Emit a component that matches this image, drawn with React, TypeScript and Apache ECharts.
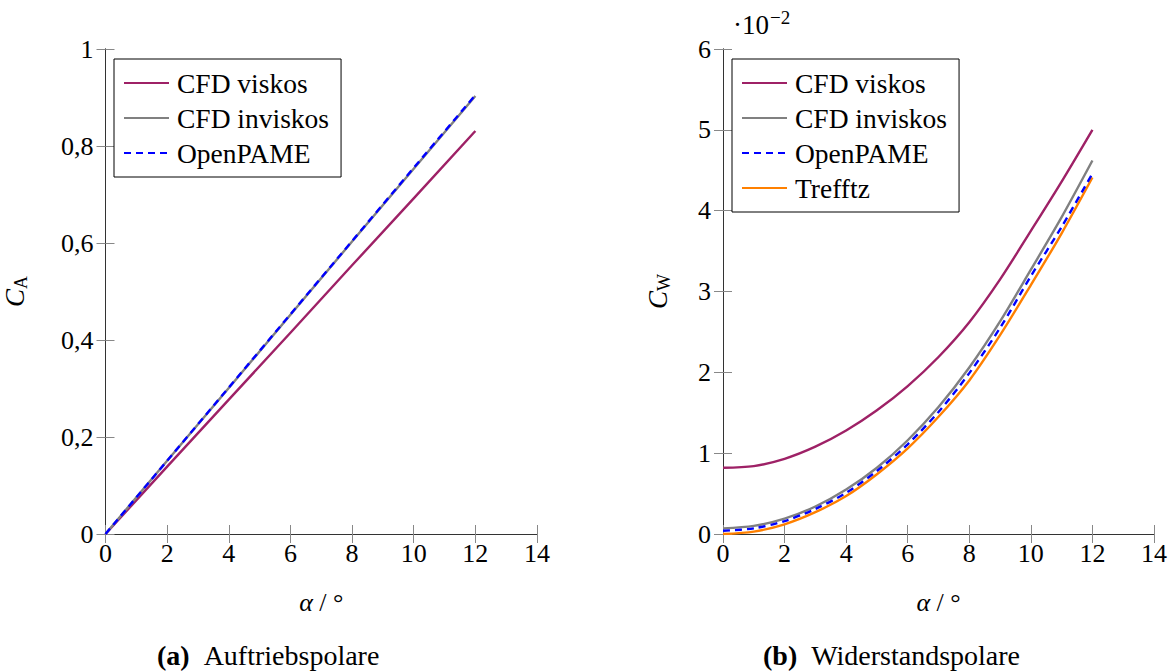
import React, { useEffect, useRef } from "react";
import * as echarts from "echarts";

const FONT = "Liberation Serif, serif";

// Left chart: Auftriebspolare (C_A over alpha)
const alphaLift = [0, 2, 4, 6, 8, 10, 12];
const liftViskos = [0, 0.139, 0.277, 0.415, 0.554, 0.692, 0.831];
const liftInviskos = [0, 0.151, 0.301, 0.452, 0.603, 0.753, 0.903];
const liftOpenPAME = [0, 0.151, 0.302, 0.453, 0.604, 0.755, 0.905];

// Right chart: Widerstandspolare (C_W over alpha, in units of 1e-2)
const alphaDrag = [0, 1, 2, 3, 4, 5, 6, 7, 8, 9, 10, 11, 12];
const dragViskos = [0.82, 0.84, 0.93, 1.08, 1.28, 1.53, 1.83, 2.19, 2.62, 3.15, 3.75, 4.36, 5.0];
const dragInviskos = [0.07, 0.1, 0.19, 0.34, 0.55, 0.82, 1.16, 1.57, 2.06, 2.63, 3.27, 3.92, 4.62];
const dragOpenPAME = [0.04, 0.07, 0.16, 0.31, 0.51, 0.78, 1.11, 1.51, 1.99, 2.55, 3.19, 3.8, 4.46];
const dragTrefftz = [0.0, 0.03, 0.12, 0.27, 0.47, 0.74, 1.06, 1.45, 1.9, 2.46, 3.08, 3.72, 4.41];

const xTicks = [0, 2, 4, 6, 8, 10, 12, 14];
const liftTicks = [0, 0.2, 0.4, 0.6, 0.8, 1];
const dragTicks = [0, 1, 2, 3, 4, 5, 6];

const names = ["CFD viskos", "CFD inviskos", "OpenPAME", "Trefftz"];
const colors = ["#9E2166", "#808080", "#0000FF", "#FF8000"];

const pairs = (xs: number[], ys: number[]) => xs.map((x, i) => [x, ys[i]]);

export default function App() {
  const ref = useRef<HTMLDivElement>(null);
  useEffect(() => {
    if (!ref.current) return;
    const chart = echarts.init(ref.current, undefined, { renderer: "svg" });

    const axisLine = { show: true, lineStyle: { color: "#333", width: 1 } };
    const tick = { show: true, inside: true, length: 9, lineStyle: { color: "#888", width: 1 } };
    const label = { fontSize: 26, fontFamily: FONT, color: "#000" };

    const xBase = (gridIndex: number, position: "bottom" | "top", showLabel: boolean) => ({
      type: "value",
      gridIndex,
      position,
      min: xTicks[0],
      max: xTicks[xTicks.length - 1],
      interval: 2,
      axisLine,
      axisTick: tick,
      splitLine: { show: false },
      axisLabel: showLabel ? { ...label, margin: 6 } : { show: false },
      name: showLabel ? "{a|α} / °" : "",
      nameLocation: "middle",
      nameGap: 55,
      nameTextStyle: {
        fontSize: 26,
        fontFamily: FONT,
        color: "#000",
        rich: { a: { fontSize: 26, fontFamily: FONT, fontStyle: "italic", color: "#000" } },
      },
    });

    const grid0 = { left: 105, top: 49, width: 432, height: 485 };
    const grid1 = { left: 723, top: 49, width: 431, height: 485 };

    const lineSeries = (
      name: string,
      idx: number,
      data: number[][],
      axis: number,
      dashed = false,
      smooth = false
    ) => ({
      type: "line",
      name,
      xAxisIndex: axis,
      yAxisIndex: axis,
      data,
      symbol: "none",
      smooth: smooth ? 0.3 : false,
      lineStyle: { color: colors[idx], width: 2.4, type: dashed ? [7, 5] : "solid" },
      itemStyle: { color: colors[idx] },
      z: dashed ? 5 : 3,
    });

    const legendBase = {
      orient: "vertical",
      top: 59,
      padding: [10, 12, 10, 9],
      itemGap: 7,
      itemWidth: 45,
      itemHeight: 14,
      borderColor: "#000",
      borderWidth: 1,
      borderRadius: 0,
      backgroundColor: "#fff",
      selectedMode: false,
      itemStyle: { opacity: 0 },
      textStyle: { fontSize: 27.5, fontFamily: FONT, color: "#000", lineHeight: 26, padding: [0, 0, 0, 3] },
    };

    const yName = (sub: string, gap: number) => ({
      name: "{c|C}{s|" + sub + "}",
      nameLocation: "middle",
      nameGap: gap,
      nameRotate: 90,
      nameTextStyle: {
        rich: {
          c: { fontSize: 27, fontFamily: FONT, fontStyle: "italic", color: "#000" },
          s: { fontSize: 18, fontFamily: FONT, color: "#000", padding: [12, 0, 0, 0] },
        },
      },
    });

    const caption = (x: number, tag: string, text: string) => ({
      type: "text",
      x,
      y: 655,
      style: {
        text: "{b|" + tag + "}{r|" + text + "}",
        align: "left",
        verticalAlign: "middle",
        rich: {
          b: { fontSize: 28, lineHeight: 26, fontFamily: FONT, fontWeight: "bold", fill: "#000" },
          r: { fontSize: 28, lineHeight: 26, fontFamily: FONT, fill: "#000", padding: [0, 0, 0, 14] },
        },
      },
    });

    chart.setOption({
      animation: false,
      backgroundColor: "#fff",
      textStyle: { fontFamily: FONT },
      grid: [grid0, grid1],
      xAxis: [xBase(0, "bottom", true), xBase(1, "bottom", true), xBase(0, "top", false), xBase(1, "top", false)],
      yAxis: [
        {
          type: "value",
          gridIndex: 0,
          position: "left",
          min: liftTicks[0],
          max: liftTicks[liftTicks.length - 1],
          interval: 0.2,
          axisLine,
          axisTick: tick,
          splitLine: { show: false },
          axisLabel: {
            ...label,
            margin: 12,
            formatter: (v: number) => (v === 0 || v === 1 ? String(v) : v.toFixed(1).replace(".", ",")),
          },
          ...yName("A", 76),
        },
        {
          type: "value",
          gridIndex: 1,
          position: "left",
          min: dragTicks[0],
          max: dragTicks[dragTicks.length - 1],
          interval: 1,
          axisLine,
          axisTick: tick,
          splitLine: { show: false },
          axisLabel: { ...label, margin: 12 },
          ...yName("W", 50),
        },
        {
          type: "value",
          gridIndex: 0,
          position: "right",
          min: 0,
          max: 1,
          interval: 0.2,
          axisLine,
          axisTick: tick,
          splitLine: { show: false },
          axisLabel: { show: false },
        },
        {
          type: "value",
          gridIndex: 1,
          position: "right",
          min: 0,
          max: 6,
          interval: 1,
          axisLine,
          axisTick: tick,
          splitLine: { show: false },
          axisLabel: { show: false },
        },
      ],
      legend: [
        { ...legendBase, left: 114, data: names.slice(0, 3) },
        { ...legendBase, left: 732, data: names.slice(0, 4) },
      ],
      series: [
        lineSeries(names[0], 0, pairs(alphaLift, liftViskos), 0),
        lineSeries(names[1], 1, pairs(alphaLift, liftInviskos), 0),
        lineSeries(names[2], 2, pairs(alphaLift, liftOpenPAME), 0, true),
        lineSeries(names[0], 0, pairs(alphaDrag, dragViskos), 1, false, true),
        lineSeries(names[1], 1, pairs(alphaDrag, dragInviskos), 1, false, true),
        lineSeries(names[2], 2, pairs(alphaDrag, dragOpenPAME), 1, true, true),
        lineSeries(names[3], 3, pairs(alphaDrag, dragTrefftz), 1, false, true),
      ],
      graphic: [
        {
          type: "text",
          left: 733,
          top: 8,
          style: {
            text: "{a|·10}{b|−2}",
            rich: {
              a: { fontSize: 27, fontFamily: FONT, fill: "#000" },
              b: { fontSize: 19, fontFamily: FONT, fill: "#000", padding: [0, 0, 14, 1] },
            },
          },
        },
        caption(157, "(a)", "Auftriebspolare"),
        caption(763, "(b)", "Widerstandspolare"),
      ],
    });
    return () => chart.dispose();
  }, []);
  return <div ref={ref} style={{ position: "fixed", left: 0, top: 0, width: 1176, height: 672 }} />;
}
